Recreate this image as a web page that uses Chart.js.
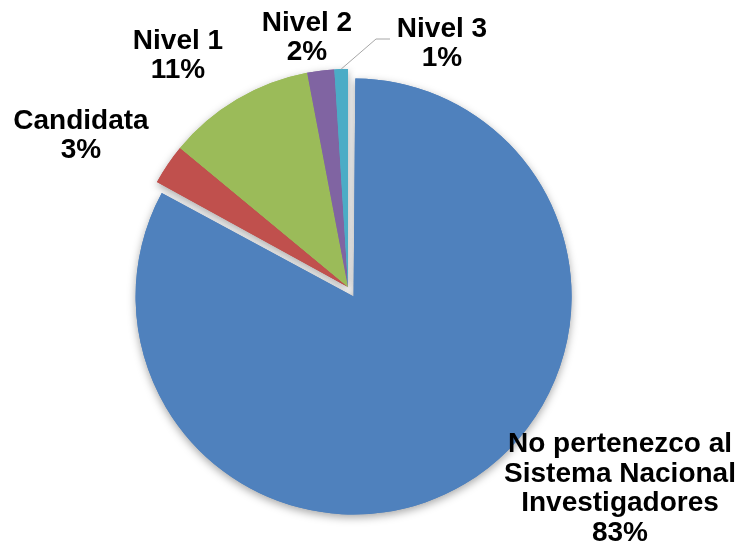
<!DOCTYPE html>
<html>
<head>
<meta charset="utf-8">
<style>
  html, body { margin: 0; padding: 0; background: #fff; }
  #wrap { width: 742px; height: 558px; }
</style>
</head>
<body>
<div id="wrap"><canvas id="pieChart" width="742" height="558"></canvas></div>

<script src="https://cdn.jsdelivr.net/npm/chart.js"></script>
<script>
  // Données du graphique
  var categories = [
    ["No pertenezco al", "Sistema Nacional", "Investigadores"],
    ["Candidata"],
    ["Nivel 1"],
    ["Nivel 2"],
    ["Nivel 3"]
  ];
  var valeurs = [83, 3, 11, 2, 1];
  var couleurs = ['#4F81BD', '#C0504D', '#9BBB59', '#8064A2', '#4BACC6'];

  // Position des étiquettes par rapport au centre du camembert
  var etiquettesPos = [[272, 202], [-267, -151], [-170, -231], [-41, -249], [94, -243]];

  // Le secteur détaché garde le même rayon que les autres
  var rayonEgal = {
    id: 'rayonEgal',
    afterDatasetsUpdate: function (chart) {
      var arcs = chart.getDatasetMeta(0).data;
      arcs.forEach(function (arc) {
        arc.outerRadius = arcs[1].outerRadius - (arc.options.offset || 0) / 4;
      });
    }
  };

  // Ombre douce sous les secteurs
  var ombre = {
    id: 'ombre',
    beforeDatasetsDraw: function (chart) {
      var ctx = chart.ctx;
      ctx.save();
      ctx.shadowColor = 'rgba(0, 0, 0, 0.35)';
      ctx.shadowBlur = 9;
      ctx.shadowOffsetY = 3;
      chart.getDatasetMeta(0).data.forEach(function (arc) { arc.draw(ctx); });
      ctx.restore();
    }
  };

  // Étiquettes de données
  var etiquettes = {
    id: 'etiquettes',
    afterDatasetsDraw: function (chart) {
      var ctx = chart.ctx;
      var arcs = chart.getDatasetMeta(0).data;
      var total = valeurs.reduce(function (a, b) { return a + b; }, 0);
      var cx = arcs[1].x, cy = arcs[1].y;
      ctx.save();
      ctx.font = 'bold 28px "Liberation Sans", Arial, sans-serif';
      ctx.fillStyle = '#000';
      ctx.textAlign = 'center';
      ctx.textBaseline = 'middle';
      var lh = 29.5;
      arcs.forEach(function (arc, i) {
        var lignes = categories[i].concat([Math.round(valeurs[i] / total * 100) + '%']);
        var x = cx + etiquettesPos[i][0];
        var y = cy + etiquettesPos[i][1] - (lignes.length - 1) * lh / 2;
        lignes.forEach(function (l, k) { ctx.fillText(l, x, y + k * lh); });
      });
      // ligne de rappel pour Nivel 3
      var a = arcs[4];
      var mid = (a.startAngle + a.endAngle) / 2;
      var px = a.x + Math.cos(mid) * a.outerRadius;
      var py = a.y + Math.sin(mid) * a.outerRadius;
      ctx.strokeStyle = '#A6A6A6';
      ctx.lineWidth = 1;
      ctx.beginPath();
      ctx.moveTo(px, py);
      ctx.lineTo(cx + 28, cy - 248);
      ctx.lineTo(cx + 42, cy - 248);
      ctx.stroke();
      ctx.restore();
    }
  };

  var ctx = document.getElementById('pieChart').getContext('2d');
  var monCamembert = new Chart(ctx, {
    type: 'pie',
    data: {
      labels: categories.map(function (c) { return c.join(' '); }),
      datasets: [{
        data: valeurs,
        backgroundColor: couleurs,
        borderWidth: 0,
        hoverOffset: 0,
        offset: [44, 0, 0, 0, 0]
      }]
    },
    options: {
      responsive: false,
      animation: false,
      radius: 218,
      layout: { padding: { top: 47, bottom: 31, left: 48, right: 94 } },
      plugins: {
        legend: { display: false },
        tooltip: { enabled: false }
      }
    },
    plugins: [rayonEgal, ombre, etiquettes]
  });
</script>
</body>
</html>
